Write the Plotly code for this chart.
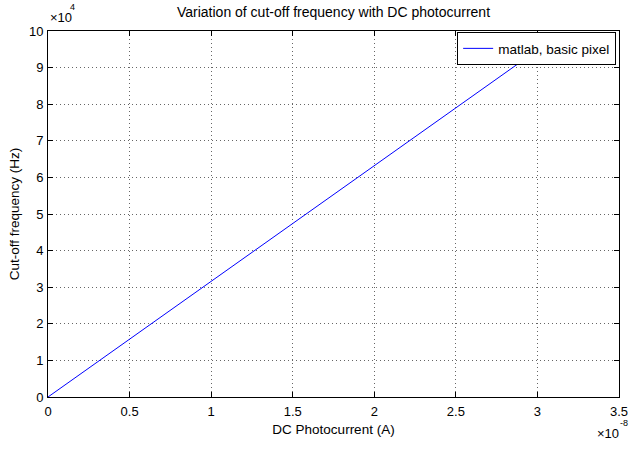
import plotly.graph_objects as go

# Data
current_A = [0, 0.5e-8, 1.0e-8, 1.5e-8, 2.0e-8, 2.5e-8, 3.0e-8]
cutoff_Hz = [0, 1.58e4, 3.16e4, 4.74e4, 6.32e4, 7.90e4, 9.48e4]

x_tickvals = [0, 0.5e-8, 1.0e-8, 1.5e-8, 2.0e-8, 2.5e-8, 3.0e-8, 3.5e-8]
x_ticktext = ["0", "0.5", "1", "1.5", "2", "2.5", "3", "3.5"]
y_tickvals = [i * 1e4 for i in range(11)]
y_ticktext = [str(i) for i in range(11)]

font = "Liberation Sans, Arial, sans-serif"

fig = go.Figure()
fig.add_trace(go.Scatter(x=current_A, y=cutoff_Hz, mode="lines",
                         line=dict(color="#0000ff", width=1),
                         name="matlab, basic pixel"))

axis_common = dict(showline=True, linecolor="black", linewidth=1, mirror="allticks",
                   ticks="inside", ticklen=5, tickcolor="black",
                   showgrid=True, gridcolor="#666666", griddash="1px,3px", gridwidth=1,
                   zeroline=False, tickfont=dict(family=font, size=13, color="black"))

fig.update_layout(
    width=640, height=450,
    margin=dict(l=48, r=12, t=31, b=53),
    paper_bgcolor="white", plot_bgcolor="white",
    title=dict(text="Variation of cut-off frequency with DC photocurrent",
               x=0.5, xanchor="center", y=1 - 12 / 450, yanchor="middle",
               xref="paper",
               font=dict(family=font, size=14, color="black")),
    xaxis=dict(range=[0, 3.5e-8], tickvals=x_tickvals, ticktext=x_ticktext,
               ticklabelstandoff=2,
               title=dict(text="DC Photocurrent (A)", standoff=6,
                          font=dict(family=font, size=13.5, color="black")),
               **axis_common),
    yaxis=dict(range=[0, 1e5], tickvals=y_tickvals, ticktext=y_ticktext,
               ticklabelstandoff=1,
               title=dict(text="Cut-off frequency (Hz)", standoff=6,
                          font=dict(family=font, size=13.5, color="black")),
               **axis_common),
    showlegend=True,
    legend=dict(x=0.995, y=0.997, xanchor="right", yanchor="top",
                bgcolor="white", bordercolor="black", borderwidth=1,
                font=dict(family=font, size=13.5, color="black"),
                tracegroupgap=0),
    annotations=[
        dict(text="\u00d710", xref="paper", yref="paper", x=0.0, y=1.0 + 4 / 366,
             xanchor="left", yanchor="bottom", showarrow=False,
             font=dict(family=font, size=13, color="black")),
        dict(text="4", xref="paper", yref="paper", x=20 / 580, y=1.0 + 17 / 366,
             xanchor="left", yanchor="bottom", showarrow=False,
             font=dict(family=font, size=9, color="black")),
        dict(text="\u00d710", xref="paper", yref="paper", x=(630 - 48) / 580, y=-(424 - 397) / 366,
             xanchor="right", yanchor="top", showarrow=False,
             font=dict(family=font, size=13, color="black")),
        dict(text="-8", xref="paper", yref="paper", x=(639 - 48) / 580, y=-(416 - 397) / 366,
             xanchor="right", yanchor="top", showarrow=False,
             font=dict(family=font, size=9, color="black")),
    ],
)

fig.write_html("out.html")
